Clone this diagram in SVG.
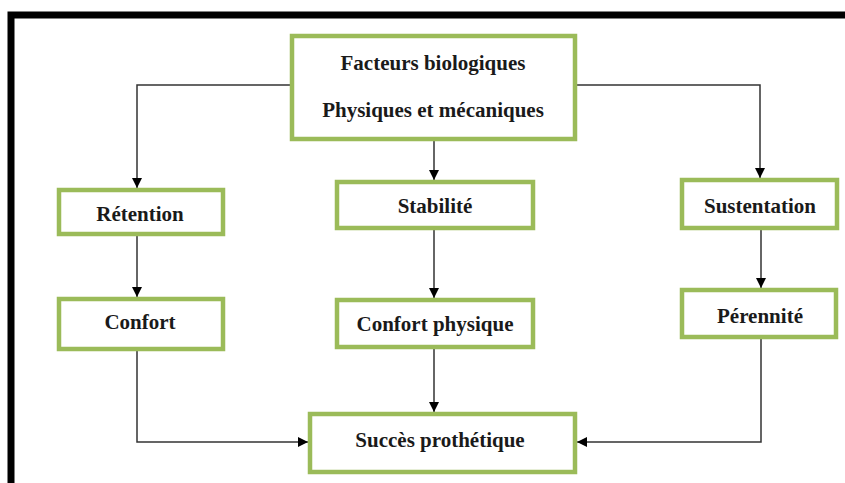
<svg xmlns="http://www.w3.org/2000/svg" width="845" height="483" viewBox="0 0 845 483">
<style>
.box{fill:#fff;stroke:#9bbb59;stroke-width:4.5}
.t{font-family:"Liberation Serif","Times New Roman",serif;font-weight:bold;font-size:21px;fill:#1a1a1a;text-anchor:middle}
.c{fill:none;stroke:#333;stroke-width:1.5}
</style>
<defs>
<marker id="ah" markerWidth="10" markerHeight="10" refX="10" refY="5" orient="auto" markerUnits="userSpaceOnUse">
<path d="M0,0 L10,5 L0,10 Z" fill="#000"/>
</marker>
</defs>
<rect width="845" height="483" fill="#fff"/>
<path d="M11,483 V15 H845" fill="none" stroke="#000" stroke-width="7"/>
<g id="connectors">
<path class="c" d="M290,85 H137 V188" marker-end="url(#ah)"/>
<path class="c" d="M577,85 H760 V178" marker-end="url(#ah)"/>
<path class="c" d="M434,141 V180" marker-end="url(#ah)"/>
<path class="c" d="M137,235 V297" marker-end="url(#ah)"/>
<path class="c" d="M434,230 V298" marker-end="url(#ah)"/>
<path class="c" d="M761,230 V288" marker-end="url(#ah)"/>
<path class="c" d="M137,351 V442 H308" marker-end="url(#ah)"/>
<path class="c" d="M434,349 V412" marker-end="url(#ah)"/>
<path class="c" d="M761,339 V442 H577" marker-end="url(#ah)"/>
</g>
<g id="facteurs">
<rect class="box" x="292" y="36" width="283" height="103"/>
<text class="t" x="433" y="70">Facteurs biologiques</text>
<text class="t" x="433" y="117">Physiques et mécaniques</text>
</g>
<g id="retention">
<rect class="box" x="59" y="190" width="164" height="44"/>
<text class="t" x="140" y="221">Rétention</text>
</g>
<g id="stabilite">
<rect class="box" x="337" y="182" width="196" height="46"/>
<text class="t" x="435" y="213">Stabilité</text>
</g>
<g id="sustentation">
<rect class="box" x="682" y="180" width="155" height="48"/>
<text class="t" x="760" y="213">Sustentation</text>
</g>
<g id="confort">
<rect class="box" x="59" y="299" width="164" height="50"/>
<text class="t" x="140" y="329">Confort</text>
</g>
<g id="confort-physique">
<rect class="box" x="337" y="300" width="196" height="47"/>
<text class="t" x="435" y="331">Confort physique</text>
</g>
<g id="perennite">
<rect class="box" x="682" y="290" width="154" height="47"/>
<text class="t" x="760" y="323">Pérennité</text>
</g>
<g id="succes">
<rect class="box" x="310" y="414" width="265" height="58"/>
<text class="t" x="440" y="447">Succès prothétique</text>
</g>
</svg>
